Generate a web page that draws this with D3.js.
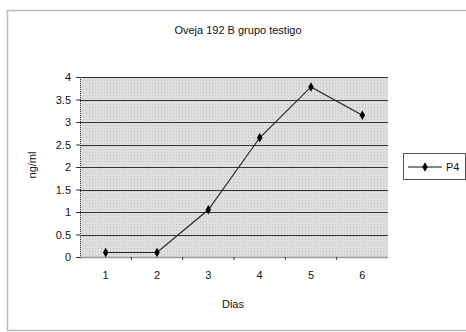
<!DOCTYPE html>
<html>
<head>
<meta charset="utf-8">
<script src="https://cdn.jsdelivr.net/npm/d3@7"></script>
<style>
  body { margin: 0; background: #fff; }
  svg text { font-family: Arial, "Liberation Sans", sans-serif; fill: #111; }
</style>
</head>
<body>
<div id="chart"></div>
<script>
// Data
const dias = ["1", "2", "3", "4", "5", "6"];
const p4 = [0.1, 0.1, 1.05, 2.65, 3.78, 3.15];
const yTicks = [0, 0.5, 1, 1.5, 2, 2.5, 3, 3.5, 4];
const yTickLabels = ["0", "0.5", "1", "1.5", "2", "2.5", "3", "3.5", "4"];
const seriesName = "P4";

const W = 466, H = 332;
const margin = { top: 77, right: 78, bottom: 75, left: 80 };
const width = W - margin.left - margin.right;
const height = H - margin.top - margin.bottom;

const svg = d3.select("#chart").append("svg")
    .attr("width", W)
    .attr("height", H);

// Sparse dot pattern for the plot area
const defs = svg.append("defs");
const pat = defs.append("pattern")
    .attr("id", "dots")
    .attr("width", 3)
    .attr("height", 3)
    .attr("patternUnits", "userSpaceOnUse");
pat.append("rect").attr("width", 3).attr("height", 3).attr("fill", "#dedede");
pat.append("rect").attr("width", 1).attr("height", 1).attr("fill", "#c2c2c2");

// Outer chart frame
svg.append("rect")
    .attr("x", 7.5)
    .attr("y", 10.5)
    .attr("width", W)
    .attr("height", 320)
    .attr("fill", "none")
    .attr("stroke", "#bbb")
    .attr("stroke-width", 1.5);

// Title
svg.append("text")
    .attr("x", 238)
    .attr("y", 34)
    .attr("text-anchor", "middle")
    .style("font-size", "11px")
    .text("Oveja 192 B grupo testigo");

const g = svg.append("g")
    .attr("transform", `translate(${margin.left},${margin.top})`);

const x = d3.scaleBand().domain(dias).range([0, width]);
const y = d3.scaleLinear().domain([0, 4]).range([height, 0]);

g.append("rect")
    .attr("width", width)
    .attr("height", height)
    .attr("fill", "url(#dots)");

// Gridlines
g.append("g")
    .selectAll("line")
    .data(yTicks.filter(d => d > 0))
    .join("line")
    .attr("x1", 0)
    .attr("x2", width)
    .attr("y1", d => Math.round(y(d)) + 0.5)
    .attr("y2", d => Math.round(y(d)) + 0.5)
    .attr("stroke", "#333")
    .attr("stroke-width", 1.2);

// Y axis
const yAxis = g.append("g")
    .call(d3.axisLeft(y).tickValues(yTicks).tickFormat((d, i) => yTickLabels[i]).tickSize(4).tickPadding(5));
yAxis.select(".domain").attr("stroke", "#333").attr("stroke-dasharray", "1,1");
yAxis.selectAll(".tick line").attr("stroke", "#333");
yAxis.selectAll("text").style("font-size", "11px").attr("fill", "#111");

// X axis
const xAxis = g.append("g")
    .attr("transform", `translate(0,${height})`)
    .call(d3.axisBottom(x).tickSize(0).tickPadding(14).tickSizeOuter(0));
xAxis.select(".domain").attr("stroke", "#333").attr("stroke-dasharray", "1,1").attr("stroke-width", 1.5);
xAxis.selectAll("text").style("font-size", "11px").attr("fill", "#111");
g.append("g")
    .selectAll("line")
    .data(dias.slice(1))
    .join("line")
    .attr("x1", d => x(d))
    .attr("x2", d => x(d))
    .attr("y1", height)
    .attr("y2", height + 3)
    .attr("stroke", "#333");

// Axis titles
svg.append("text")
    .attr("transform", `translate(36,165) rotate(-90)`)
    .attr("text-anchor", "middle")
    .style("font-size", "11px")
    .text("ng/ml");

svg.append("text")
    .attr("x", 233)
    .attr("y", 308)
    .attr("text-anchor", "middle")
    .style("font-size", "11px")
    .text("Dias");

// Series line
const cx = d => x(d) + x.bandwidth() / 2;
const line = d3.line()
    .x((d, i) => cx(dias[i]))
    .y(d => y(d));

g.append("path")
    .datum(p4)
    .attr("d", line)
    .attr("fill", "none")
    .attr("stroke", "#222")
    .attr("stroke-width", 1.1);

const diamond = d3.symbol().type(d3.symbolDiamond).size(26);
g.selectAll(".pt")
    .data(p4)
    .join("path")
    .attr("class", "pt")
    .attr("d", diamond)
    .attr("transform", (d, i) => `translate(${cx(dias[i])},${y(d)})`)
    .attr("fill", "#000");

// Legend
const lg = svg.append("g").attr("transform", "translate(403,153)");
lg.append("rect")
    .attr("x", 0.5)
    .attr("y", 0.5)
    .attr("width", 62)
    .attr("height", 26)
    .attr("fill", "#fff")
    .attr("stroke", "#555");
lg.append("line")
    .attr("x1", 5)
    .attr("x2", 39)
    .attr("y1", 14)
    .attr("y2", 14)
    .attr("stroke", "#111")
    .attr("stroke-width", 1.2);
lg.append("path")
    .attr("d", diamond)
    .attr("transform", "translate(22,14)")
    .attr("fill", "#000");
lg.append("text")
    .attr("x", 43)
    .attr("y", 18)
    .style("font-size", "11px")
    .text(seriesName);
</script>
</body>
</html>
